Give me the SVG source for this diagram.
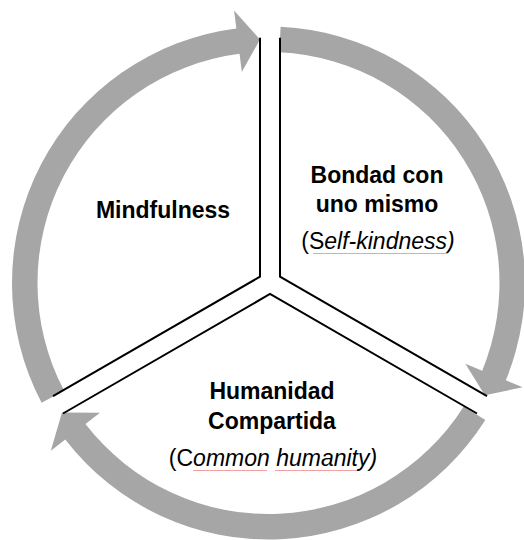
<svg xmlns="http://www.w3.org/2000/svg" width="524" height="540" viewBox="0 0 524 540">
<style>
.arrow{fill:#a6a6a6;stroke:none}
.div{fill:none;stroke:#000;stroke-width:2;stroke-linejoin:miter}
.lbl{font-family:"Liberation Sans",Arial,sans-serif;font-size:23px;fill:#000;text-anchor:middle}
.b{font-weight:bold}
.it{font-style:italic}
.spell{stroke:#f2a0a0;stroke-width:1;fill:none}
</style>
<rect width="524" height="540" fill="#fff"/>
<g id="connectors">
<path class="arrow" d="M64.16,390.76 L41.60,402.65 A256.5,256.5 0 0 1 236.35,28.52 L234.07,10.42 L259.99,39.40 L241.84,71.93 L239.55,53.82 A231,231 0 0 0 64.16,390.76 Z"/>
<path class="arrow" d="M279.38,52.26 L280.58,26.78 A256.5,256.5 0 0 1 505.82,380.33 L522.70,387.26 L484.91,395.17 L465.34,363.73 L482.22,370.66 A231,231 0 0 0 279.38,52.26 Z"/>
<path class="arrow" d="M463.76,406.43 L485.31,420.06 A256.5,256.5 0 0 1 65.28,439.50 L50.82,450.64 L61.98,412.47 L99.94,412.81 L85.48,423.94 A231,231 0 0 0 463.76,406.43 Z"/>
<polyline class="div" points="260,37.7 260,276.7 53,396.2"/>
<polyline class="div" points="280,37.7 280,276.7 487,396.2"/>
<polyline class="div" points="63,413.5 270,294 477,413.5"/>
</g>
<g id="mindfulness">
<text class="lbl b" x="163" y="218">Mindfulness</text>
</g>
<g id="bondad">
<text class="lbl b" x="377" y="183">Bondad con</text>
<text class="lbl b" x="377" y="212">uno mismo</text>
<text class="lbl" x="378" y="249"><tspan>(S</tspan><tspan class="it">elf-kindness)</tspan></text>
<line class="spell" x1="313" y1="253.5" x2="448" y2="253.5"/>
</g>
<g id="humanidad">
<text class="lbl b" x="272" y="399">Humanidad</text>
<text class="lbl b" x="272" y="429">Compartida</text>
<text class="lbl" x="273" y="466"><tspan>(C</tspan><tspan class="it">ommon humanity)</tspan></text>
<line class="spell" x1="193" y1="470.5" x2="267" y2="470.5"/>
<line class="spell" x1="275" y1="470.5" x2="357" y2="470.5"/>
</g>
</svg>
